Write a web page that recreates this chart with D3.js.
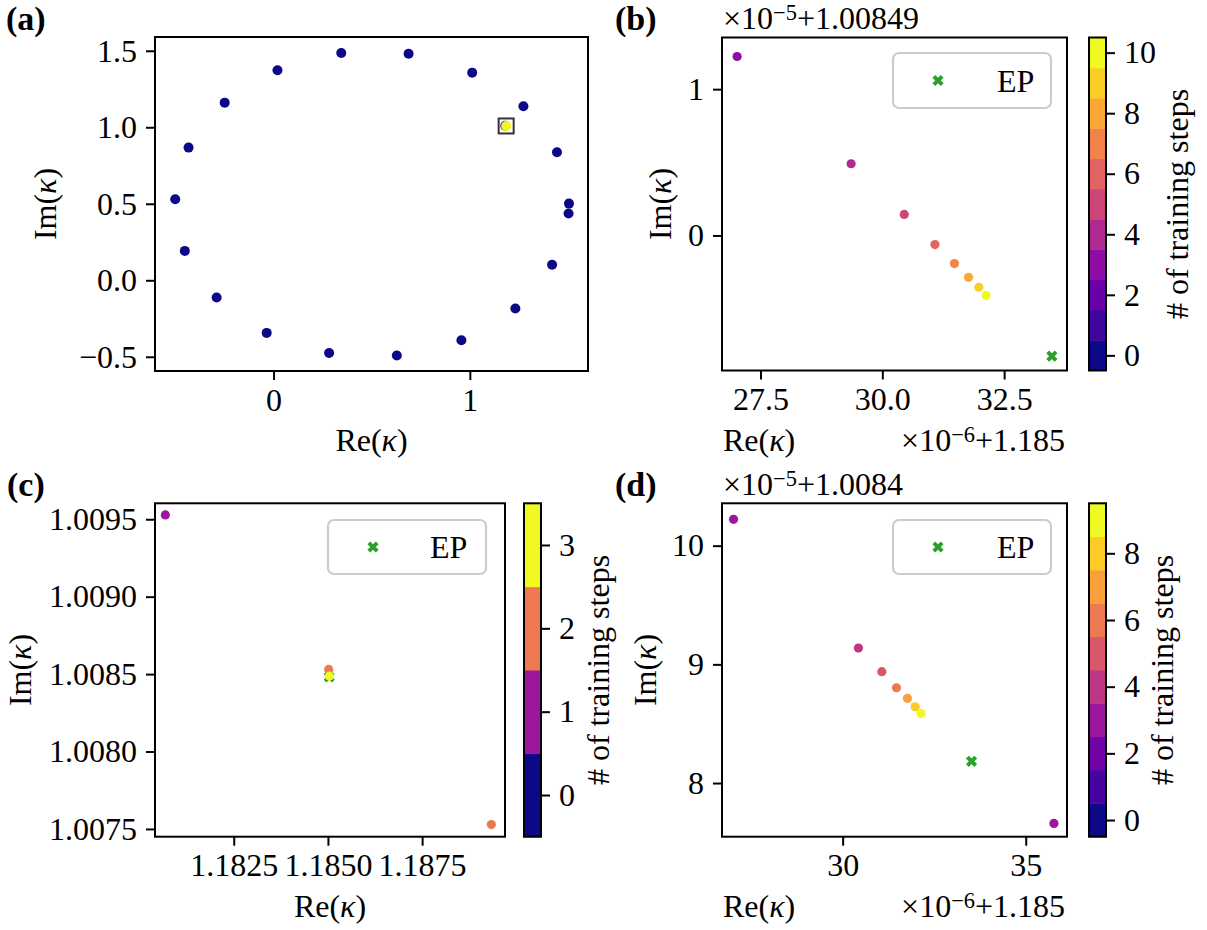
<!DOCTYPE html>
<html>
<head>
<meta charset="utf-8">
<script src="https://cdn.jsdelivr.net/npm/d3@7"></script>
<style>
body { margin: 0; background: #fff; }
svg text { font-family: "Liberation Serif", "Times New Roman", serif; fill: #000; }
</style>
</head>
<body>
<script>
// (a) starting points (step 0) and the converged point
const aRe = [0.020, 0.345, 0.688, 1.012, 1.273, 1.444, 1.505, 1.503, 1.419, 1.232,
             0.957, 0.628, 0.283, -0.035, -0.290, -0.452, -0.501, -0.433, -0.249, 1.1807, 1.185];
const aIm = [1.373, 1.486, 1.481, 1.357, 1.137, 0.837, 0.501, 0.436, 0.102, -0.185,
             -0.392, -0.492, -0.475, -0.344, -0.113, 0.192, 0.529, 0.867, 1.161, 1.0095, 1.0085];
const aStep = [0, 0, 0, 0, 0, 0, 0, 0, 0, 0, 0, 0, 0, 0, 0, 0, 0, 0, 0, 1, 10];
const aBox = [1.185, 1.0085];

// (b) in units of 1e-6 (+1.185) and 1e-5 (+1.00849)
const bRe = [27.02, 29.36, 30.45, 31.08, 31.48, 31.77, 31.98, 32.13];
const bIm = [1.223, 0.490, 0.144, -0.062, -0.192, -0.286, -0.354, -0.409];
const bStep = [3, 4, 5, 6, 7, 8, 9, 10];
const bEP = [33.48, -0.825];

// (c) absolute values
const cRe = [1.180685, 1.185021, 1.189337, 1.185040];
const cIm = [1.009528, 1.0085304, 1.007528, 1.008487];
const cStep = [1, 2, 2, 3];
const cEP = [1.1850335, 1.0084818];

// (d) in units of 1e-6 (+1.185) and 1e-5 (+1.0084)
const dRe = [27.02, 35.77, 30.43, 31.07, 31.47, 31.77, 31.98, 32.14];
const dIm = [10.222, 7.660, 9.137, 8.938, 8.803, 8.714, 8.643, 8.586];
const dStep = [3, 3, 4, 5, 6, 7, 8, 9];
const dEP = [33.52, 8.183];

// ticks
const aXTicks = [0, 1], aYTicks = [-0.5, 0, 0.5, 1.0, 1.5];
const bXTicks = [27.5, 30.0, 32.5], bYTicks = [0, 1];
const cXTicks = [1.1825, 1.1850, 1.1875], cYTicks = [1.0075, 1.0080, 1.0085, 1.0090, 1.0095];
const dXTicks = [30, 35], dYTicks = [8, 9, 10];
const bLevels = 11, cLevels = 4, dLevels = 10;
const bBarTicks = [0, 2, 4, 6, 8, 10], cBarTicks = [0, 1, 2, 3], dBarTicks = [0, 2, 4, 6, 8];

const FS = 32;
const EP_COLOR = "#2ca02c";

const svg = d3.select("body").append("svg")
    .attr("width", 1207)
    .attr("height", 930);
svg.append("rect").attr("width", 1207).attr("height", 930).attr("fill", "#fff");

function styleAxis(sel) {
  sel.attr("font-family", null).attr("font-size", null);
  sel.select(".domain").remove();
  sel.selectAll(".tick line").attr("stroke", "#000").attr("stroke-width", 2);
  sel.selectAll(".tick text").attr("font-size", FS).attr("fill", "#000");
}

function makeAxes(box, xLim, yLim, xTicks, yTicks, xFmt, yFmt) {
  const x = d3.scaleLinear().domain(xLim).range([box.left, box.right]);
  const y = d3.scaleLinear().domain(yLim).range([box.bottom, box.top]);
  svg.append("g")
      .attr("transform", "translate(0," + box.bottom + ")")
      .call(d3.axisBottom(x).tickValues(xTicks).tickFormat(xFmt).tickSize(9).tickPadding(8))
      .call(styleAxis);
  svg.append("g")
      .attr("transform", "translate(" + box.left + ",0)")
      .call(d3.axisLeft(y).tickValues(yTicks).tickFormat(yFmt).tickSize(9).tickPadding(9))
      .call(styleAxis);
  const g = svg.append("g");
  return { x, y, g, box };
}

function frame(box) {
  svg.append("rect")
      .attr("x", box.left).attr("y", box.top)
      .attr("width", box.right - box.left).attr("height", box.bottom - box.top)
      .attr("fill", "none").attr("stroke", "#000").attr("stroke-width", 2);
}

function dots(ax, re, im, step, levels, r) {
  const color = d3.scaleSequential(d3.interpolatePlasma).domain([0, levels - 1]);
  ax.g.selectAll(null)
      .data(re.map((v, i) => ({ re: v, im: im[i], s: step[i] })))
      .enter().append("circle")
      .attr("cx", d => ax.x(d.re))
      .attr("cy", d => ax.y(d.im))
      .attr("r", r)
      .attr("fill", d => color(d.s));
}

const xSym = d3.symbol().type(d3.symbolCross).size(78);
function epMark(g, cx, cy) {
  g.append("path")
      .attr("d", xSym())
      .attr("transform", "translate(" + cx + "," + cy + ") rotate(45)")
      .attr("fill", EP_COLOR);
}

function legend(x0, y0, w, h, mx, tx) {
  const g = svg.append("g");
  g.append("rect")
      .attr("x", x0).attr("y", y0).attr("width", w).attr("height", h)
      .attr("rx", 6).attr("fill", "#fff").attr("fill-opacity", 0.8)
      .attr("stroke", "#cccccc").attr("stroke-width", 2.2);
  epMark(g, mx, y0 + h / 2);
  g.append("text").attr("x", tx).attr("y", y0 + h / 2 + 11)
      .attr("font-size", FS).text("EP");
}

function colorbar(box, levels, ticks) {
  const y = d3.scaleLinear().domain([-0.5, levels - 0.5]).range([box.bottom, box.top]);
  const color = d3.scaleSequential(d3.interpolatePlasma).domain([0, levels - 1]);
  svg.append("g").selectAll("rect")
      .data(d3.range(levels))
      .enter().append("rect")
      .attr("x", box.left)
      .attr("y", d => y(d + 0.5))
      .attr("width", box.right - box.left)
      .attr("height", d => y(d - 0.5) - y(d + 0.5) + 0.5)
      .attr("fill", d => color(d));
  svg.append("g")
      .attr("transform", "translate(" + box.right + ",0)")
      .call(d3.axisRight(y).tickValues(ticks).tickFormat(d3.format("d")).tickSize(9).tickPadding(9))
      .call(styleAxis);
  frame(box);
}

function kappaLabel(sel, head) {
  sel.append("tspan").text(head + "(");
  sel.append("tspan").attr("font-style", "italic").text("κ");
  sel.append("tspan").text(")");
}

function yLabel(xb, yc, head) {
  const t = svg.append("text")
      .attr("transform", "translate(" + xb + "," + yc + ") rotate(-90)")
      .attr("text-anchor", "middle").attr("font-size", FS);
  kappaLabel(t, head);
}

function xLabel(x, yb, anchor) {
  const t = svg.append("text").attr("x", x).attr("y", yb)
      .attr("text-anchor", anchor).attr("font-size", FS);
  kappaLabel(t, "Re");
}

function barLabel(xb, yc) {
  svg.append("text")
      .attr("transform", "translate(" + xb + "," + yc + ") rotate(-90)")
      .attr("text-anchor", "middle").attr("font-size", FS)
      .text("# of training steps");
}

function offsetText(x, yb, exp, add, anchor) {
  const t = svg.append("text").attr("x", x).attr("y", yb)
      .attr("text-anchor", anchor).attr("font-size", FS);
  t.append("tspan").text("×10");
  t.append("tspan").attr("font-size", FS * 0.7).attr("dy", -9).text("−" + exp);
  t.append("tspan").attr("dy", 9).text("+" + add);
}

function panelTag(x, yb, txt) {
  svg.append("text").attr("x", x).attr("y", yb)
      .attr("font-size", FS + 2).attr("font-weight", "bold").text(txt);
}

// ---- (a)
const A = { left: 155, right: 588, top: 37, bottom: 371 };
const ax = makeAxes(A, [-0.604, 1.602], [-0.593, 1.590], aXTicks, aYTicks, d3.format("d"), d3.format(".1f"));
dots(ax, aRe, aIm, aStep, 11, 5);
ax.g.append("rect")
    .attr("x", ax.x(aBox[0]) - 7.5).attr("y", ax.y(aBox[1]) - 7.5)
    .attr("width", 15).attr("height", 15)
    .attr("fill", "none").attr("stroke", "#333").attr("stroke-width", 2);
frame(A);
yLabel(56, 204, "Im");
xLabel((A.left + A.right) / 2, 451, "middle");
panelTag(6, 30, "(a)");

// ---- (b)
const B = { left: 722, right: 1067, top: 37.5, bottom: 370.5 };
const bx = makeAxes(B, [26.71, 33.79], [-0.923, 1.353], bXTicks, bYTicks, d3.format(".1f"), d3.format("d"));
epMark(bx.g, bx.x(bEP[0]), bx.y(bEP[1]));
dots(bx, bRe, bIm, bStep, bLevels, 4.6);
frame(B);
legend(893, 53, 158, 55, 938, 997);
colorbar({ left: 1089, right: 1106, top: B.top, bottom: B.bottom }, bLevels, bBarTicks);
yLabel(671, 204, "Im");
xLabel(723, 451, "start");
offsetText(1065, 451, "6", "1.185", "end");
offsetText(723, 29, "5", "1.00849", "start");
barLabel(1188, 204);
panelTag(615, 30, "(b)");

// ---- (c)
const C = { left: 155, right: 505, top: 503.3, bottom: 836.7 };
const cx = makeAxes(C, [1.18041, 1.18970], [1.00745, 1.009603], cXTicks, cYTicks, d3.format(".4f"), d3.format(".4f"));
epMark(cx.g, cx.x(cEP[0]), cx.y(cEP[1]));
dots(cx, cRe, cIm, cStep, cLevels, 4.6);
frame(C);
legend(328, 520, 158, 54, 373, 430);
colorbar({ left: 524, right: 541, top: C.top, bottom: C.bottom }, cLevels, cBarTicks);
yLabel(31, 670, "Im");
xLabel((C.left + C.right) / 2, 917, "middle");
barLabel(609, 670);
panelTag(7, 496, "(c)");

// ---- (d)
const D = { left: 722, right: 1067, top: 503.3, bottom: 836.7 };
const dx = makeAxes(D, [26.705, 36.127], [7.548, 10.357], dXTicks, dYTicks, d3.format("d"), d3.format("d"));
epMark(dx.g, dx.x(dEP[0]), dx.y(dEP[1]));
dots(dx, dRe, dIm, dStep, dLevels, 4.6);
frame(D);
legend(893, 520, 158, 54, 938, 997);
colorbar({ left: 1089, right: 1106, top: D.top, bottom: D.bottom }, dLevels, dBarTicks);
yLabel(656, 670, "Im");
xLabel(723, 917, "start");
offsetText(1065, 917, "6", "1.185", "end");
offsetText(723, 495, "5", "1.0084", "start");
barLabel(1173, 670);
panelTag(615, 496, "(d)");
</script>
</body>
</html>
